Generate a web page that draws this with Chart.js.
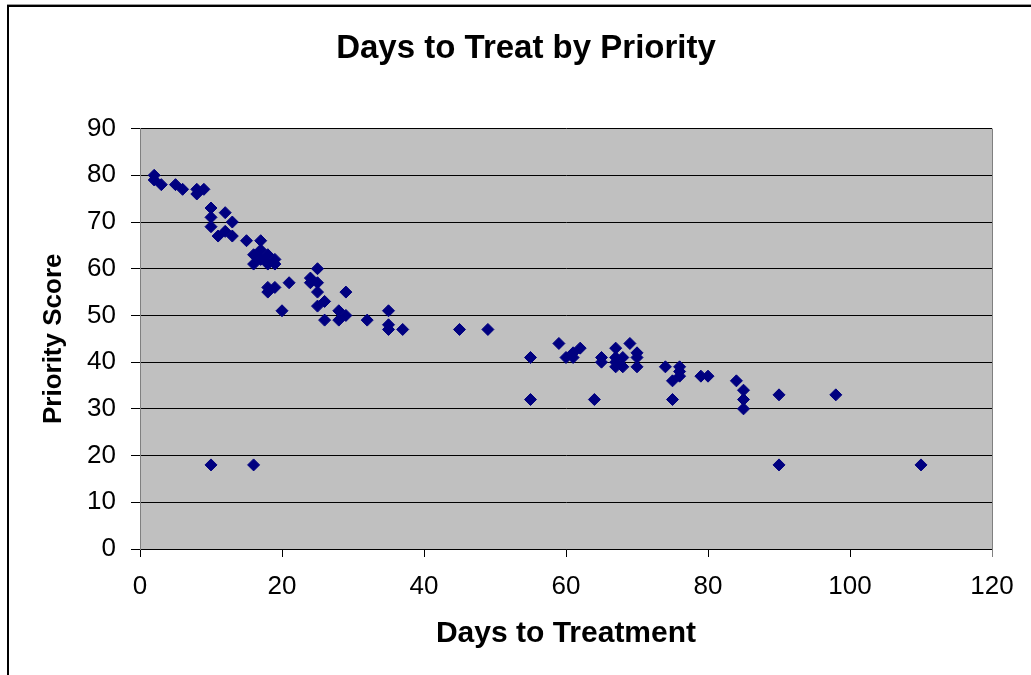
<!DOCTYPE html>
<html>
<head>
<meta charset="utf-8">
<script src="https://cdn.jsdelivr.net/npm/chart.js@4"></script>
<style>
  html, body { margin: 0; padding: 0; background: #ffffff; }
  #wrap { position: relative; width: 1031px; height: 675px; }
  canvas { display: block; }
</style>
</head>
<body>
<div id="wrap"><canvas id="c" width="1031" height="675"></canvas></div>
<script>
// ---- Data ----
const chartTitle = "Days to Treat by Priority";
const xAxisTitle = "Days to Treatment";
const yAxisTitle = "Priority Score";
const seriesName = "Priority";

const daysToTreatment = [
  2, 2, 3, 5, 6, 8, 8, 9,
  10, 10, 10, 11, 12, 12, 13, 13,
  15, 17, 16, 16, 17, 17, 18, 18, 19, 19,
  18, 18, 19, 21, 20,
  25, 24, 24, 25, 25, 26, 25, 29, 28, 29, 26, 28, 32,
  35, 35, 35, 37, 45, 49,
  55, 55, 59, 60, 61, 61, 62, 64, 65, 65,
  67, 67, 67, 67, 68, 68, 69, 70, 70, 70,
  74, 75, 75, 76, 76, 76, 79, 80, 84, 85, 85, 85, 90, 98,
  10, 16, 90, 110
];
const priorityScore = [
  80, 79, 78, 78, 77, 77, 76, 77,
  73, 71, 69, 67, 72, 68, 70, 67,
  66, 66, 63, 61, 64, 62, 63, 61, 62, 61,
  56, 55, 56, 57, 51,
  60, 58, 57, 57, 55, 53, 52, 55, 51, 50, 49, 49, 49,
  51, 48, 47, 47, 47, 47,
  41, 32, 44, 41, 41, 42, 43, 32, 41, 40,
  43, 41, 40, 39, 41, 39, 44, 42, 41, 39,
  39, 32, 36, 39, 38, 37, 37, 37, 36, 34, 32, 30, 33, 33,
  18, 18, 18, 18
];
const xTicks = [0, 20, 40, 60, 80, 100, 120];
const yTicks = [0, 10, 20, 30, 40, 50, 60, 70, 80, 90];

const points = daysToTreatment.map((d, i) => ({ x: d, y: priorityScore[i] }));

const frameAndArea = {
  id: 'frameAndArea',
  beforeDraw(chart) {
    const { ctx, chartArea: a } = chart;
    ctx.save();
    ctx.fillStyle = '#ffffff';
    ctx.fillRect(0, 0, chart.width, chart.height);
    // plot area fill
    ctx.fillStyle = '#c0c0c0';
    ctx.fillRect(a.left, a.top, a.right - a.left, a.bottom - a.top);
    // outer chart frame (top and left edges visible)
    ctx.fillStyle = '#9a9a9a';
    ctx.fillRect(7, 4, chart.width - 7, 1);
    ctx.fillStyle = '#000000';
    ctx.fillRect(7, 5, chart.width - 7, 2);
    ctx.fillRect(7, 5, 2, chart.height - 5);
    ctx.restore();
  },
  afterDatasetsDraw(chart) {
    const { ctx, chartArea: a } = chart;
    ctx.save();
    ctx.strokeStyle = '#808080';
    ctx.lineWidth = 1;
    ctx.beginPath();
    ctx.moveTo(Math.round(a.right) + 0.5, a.top);
    ctx.lineTo(Math.round(a.right) + 0.5, a.bottom + 8);
    ctx.stroke();
    ctx.restore();
  }
};

new Chart(document.getElementById('c'), {
  type: 'scatter',
  data: {
    datasets: [{
      label: seriesName,
      data: points,
      pointStyle: 'rectRot',
      pointRadius: 6,
      pointHoverRadius: 6,
      pointBackgroundColor: '#000080',
      pointBorderColor: '#000080',
      pointBorderWidth: 1
    }]
  },
  options: {
    responsive: false,
    animation: false,
    devicePixelRatio: 1,
    layout: { padding: { left: 60, right: 39, top: 0, bottom: 0 } },
    plugins: {
      legend: { display: false },
      tooltip: { enabled: false },
      title: {
        display: true,
        text: chartTitle,
        color: '#000000',
        font: { family: 'Liberation Sans, Arial, sans-serif', size: 33, weight: 'bold', lineHeight: 1.2 },
        padding: { top: 29, bottom: 60 }
      }
    },
    scales: {
      x: {
        type: 'linear',
        min: 0, max: 120,
        afterFit(scale) { scale.height = 126; },
        afterBuildTicks(scale) { scale.ticks = xTicks.map(v => ({ value: v })); },
        grid: {
          display: true,
          drawOnChartArea: false,
          drawTicks: true,
          tickLength: 8,
          color: '#000000',
          lineWidth: 1
        },
        border: { display: true, color: '#000000', width: 1 },
        ticks: {
          color: '#000000',
          padding: 14,
          maxRotation: 0,
          autoSkip: false,
          font: { family: 'Liberation Sans, Arial, sans-serif', size: 26 }
        },
        title: {
          display: true,
          text: xAxisTitle,
          color: '#000000',
          font: { family: 'Liberation Sans, Arial, sans-serif', size: 30, weight: 'bold', lineHeight: 1.2 },
          padding: { top: 0, bottom: 23 }
        }
      },
      y: {
        type: 'linear',
        min: 0, max: 90,
        afterFit(scale) { scale.width = 80; },
        afterBuildTicks(scale) { scale.ticks = yTicks.map(v => ({ value: v })); },
        grid: {
          display: true,
          drawOnChartArea: true,
          drawTicks: true,
          tickLength: 9,
          color: '#000000',
          lineWidth: 1
        },
        border: { display: true, color: '#808080', width: 1 },
        ticks: {
          color: '#000000',
          padding: 15,
          autoSkip: false,
          font: { family: 'Liberation Sans, Arial, sans-serif', size: 26 }
        },
        title: {
          display: true,
          text: yAxisTitle,
          color: '#000000',
          font: { family: 'Liberation Sans, Arial, sans-serif', size: 26, weight: 'bold', lineHeight: 1.2 },
          padding: { top: -22, bottom: 0 }
        }
      }
    }
  },
  plugins: [frameAndArea]
});
</script>
</body>
</html>
